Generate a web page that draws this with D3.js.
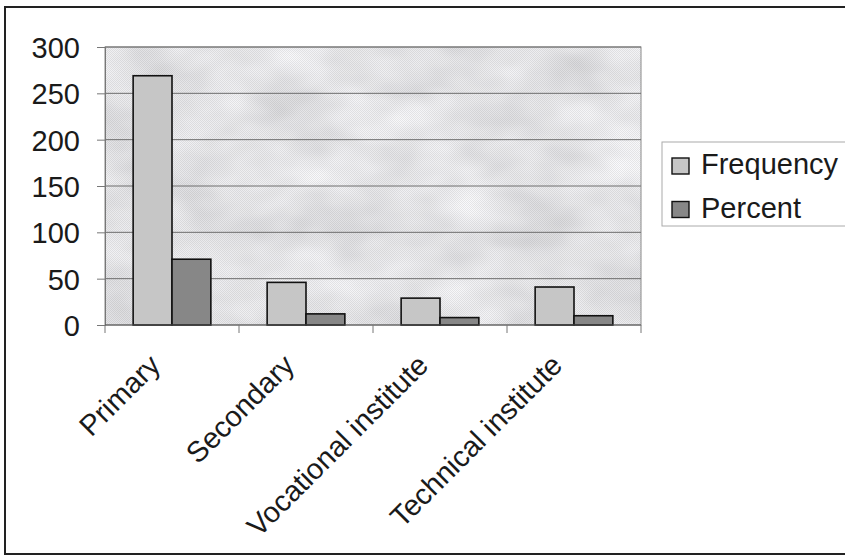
<!DOCTYPE html>
<html>
<head>
<meta charset="utf-8">
<script src="https://cdn.jsdelivr.net/npm/d3@7"></script>
<style>
  html, body { margin: 0; padding: 0; background: #ffffff; }
  svg { display: block; }
  text { font-family: "Liberation Sans", Arial, sans-serif; fill: #1a1a1a; }
</style>
</head>
<body>
<svg id="chart" width="845" height="560"></svg>
<script>
// ---- data ----
const categories = ["Primary", "Secondary", "Vocational institute", "Technical institute"];
const seriesNames = ["Frequency", "Percent"];
const frequency = [269, 46, 29, 41];
const percent = [71, 12, 8, 10];
const yTicks = [0, 50, 100, 150, 200, 250, 300];

const seriesValues = [frequency, percent];
const seriesFill = ["#c6c6c6", "#878787"];

const svg = d3.select("#chart");
const W = 845, H = 560;
const plot = { left: 105, right: 641, top: 47, bottom: 325 };
const FS = 29;

// texture filter for plot area
const defs = svg.append("defs");
const f = defs.append("filter").attr("id", "cloud").attr("x", 0).attr("y", 0).attr("width", 1).attr("height", 1);
f.append("feTurbulence").attr("type", "fractalNoise").attr("baseFrequency", "0.012 0.02").attr("numOctaves", 3).attr("seed", 7).attr("result", "n");
f.append("feColorMatrix").attr("in", "n").attr("type", "matrix")
  .attr("values", "0.4 0 0 0 0.63  0.4 0 0 0 0.63  0.4 0 0 0 0.65  0 0 0 0 1");
const pat = defs.append("pattern").attr("id", "dots").attr("width", 2).attr("height", 2).attr("patternUnits", "userSpaceOnUse");
pat.append("rect").attr("width", 1).attr("height", 1).attr("fill", "#000").attr("opacity", 0.08);
pat.append("rect").attr("x", 1).attr("y", 1).attr("width", 1).attr("height", 1).attr("fill", "#000").attr("opacity", 0.08);

// outer chart border
svg.append("rect").attr("x", 5).attr("y", 7).attr("width", W + 10).attr("height", 547)
  .attr("fill", "#ffffff").attr("stroke", "#222").attr("stroke-width", 2);

// scales
const x0 = d3.scaleBand().domain(categories).range([plot.left, plot.right]).padding(0);
const x1 = d3.scaleBand().domain(seriesNames)
  .range([x0.bandwidth() * 0.21, x0.bandwidth() * 0.79]).padding(0);
const y = d3.scaleLinear().domain([0, 300]).range([plot.bottom, plot.top]);

// plot area background
svg.append("rect").attr("x", plot.left).attr("y", plot.top)
  .attr("width", plot.right - plot.left).attr("height", plot.bottom - plot.top)
  .attr("filter", "url(#cloud)");
svg.append("rect").attr("x", plot.left).attr("y", plot.top)
  .attr("width", plot.right - plot.left).attr("height", plot.bottom - plot.top)
  .attr("fill", "url(#dots)").attr("stroke", "#8a8a8a").attr("stroke-width", 1);

// gridlines
svg.append("g").selectAll("line").data(yTicks.filter(d => d > 0)).join("line")
  .attr("x1", plot.left).attr("x2", plot.right)
  .attr("y1", d => y(d)).attr("y2", d => y(d))
  .attr("stroke", "#6e6e6e").attr("stroke-width", 1);

// bars
const groups = svg.append("g").selectAll("g").data(categories).join("g")
  .attr("transform", c => `translate(${x0(c)},0)`);
groups.selectAll("rect").data((c, i) => seriesNames.map((s, j) => ({ s, j, v: seriesValues[j][i] })))
  .join("rect")
  .attr("x", d => x1(d.s)).attr("width", x1.bandwidth())
  .attr("y", d => y(d.v)).attr("height", d => y(0) - y(d.v))
  .attr("fill", d => seriesFill[d.j]).attr("stroke", "#111").attr("stroke-width", 1.6);

// y axis
const yAxis = d3.axisLeft(y).tickValues(yTicks).tickSize(8).tickPadding(17);
const gy = svg.append("g").attr("transform", `translate(${plot.left},0)`).call(yAxis);
gy.select(".domain").attr("stroke", "#777");
gy.selectAll(".tick line").attr("stroke", "#777");
gy.selectAll(".tick text").attr("font-size", FS).attr("fill", "#1a1a1a")
  .attr("font-family", "Liberation Sans, Arial, sans-serif").attr("dy", "0.36em");

// x axis
const boundaries = categories.map(c => x0(c)).concat([plot.right]);
const gx = svg.append("g");
gx.append("line").attr("x1", plot.left).attr("x2", plot.right)
  .attr("y1", y(0)).attr("y2", y(0)).attr("stroke", "#555").attr("stroke-width", 1.2);
gx.selectAll("line.tk").data(boundaries).join("line").attr("class", "tk")
  .attr("x1", d => d).attr("x2", d => d).attr("y1", y(0)).attr("y2", y(0) + 8)
  .attr("stroke", "#777");
gx.selectAll("text").data(categories).join("text")
  .attr("transform", c => `translate(${x0(c) + x0.bandwidth() / 2 - 10},${y(0) + 42}) rotate(-45)`)
  .attr("text-anchor", "end").attr("font-size", FS).text(c => c);

// legend
const lg = svg.append("g");
lg.append("rect").attr("x", 662).attr("y", 142).attr("width", 200).attr("height", 84)
  .attr("fill", "#fff").attr("stroke", "#aaa").attr("stroke-width", 1);
seriesNames.forEach((s, j) => {
  const cy = 166 + j * 43.5;
  lg.append("rect").attr("x", 672).attr("y", cy - 8).attr("width", 17).attr("height", 16)
    .attr("fill", seriesFill[j]).attr("stroke", "#111").attr("stroke-width", 1.4);
  lg.append("text").attr("x", 701).attr("y", cy + 8).attr("font-size", FS).text(s);
});
</script>
</body>
</html>
